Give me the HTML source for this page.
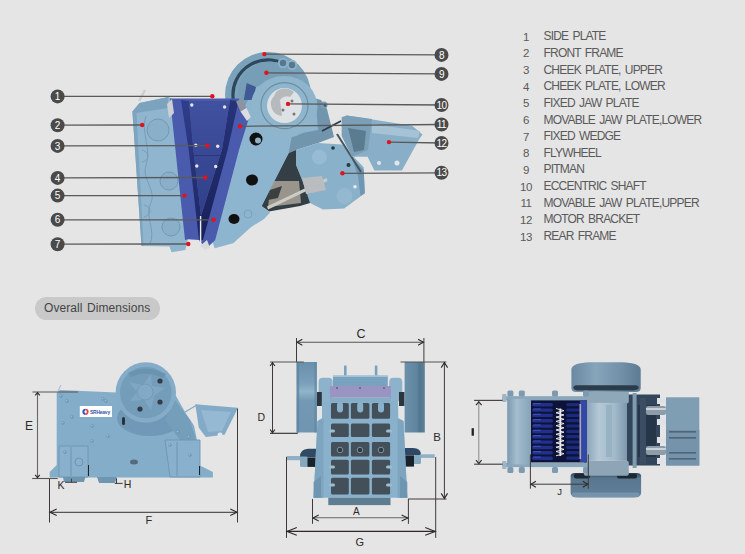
<!DOCTYPE html>
<html><head><meta charset="utf-8">
<style>
html,body{margin:0;padding:0;background:#e5e5e5;}
body{width:745px;height:554px;position:relative;overflow:hidden;font-family:"Liberation Sans",sans-serif;}
.row{position:absolute;left:0;height:16px;font-size:12px;line-height:16px;color:#5a5a5a;white-space:nowrap;}
.num{position:absolute;width:20px;text-align:center;left:516px;top:0.6px;font-size:11.5px;letter-spacing:-0.4px;}
.txt{position:absolute;left:543.5px;letter-spacing:-0.8px;word-spacing:1.6px;}
.pill{position:absolute;left:34.5px;top:296.5px;width:125px;height:23px;border-radius:12px;background:#c9c9c9;}
.pill span{position:absolute;left:9.5px;top:4px;font-size:12px;line-height:14px;color:#444;word-spacing:1.3px;letter-spacing:0.05px;}
svg{position:absolute;left:0;top:0;font-family:"Liberation Sans",sans-serif;}
</style></head>
<body>
<svg width="745" height="554" viewBox="0 0 745 554">
<circle cx="268" cy="95" r="43" fill="#7ba2bb"/>
<path d="M233.5,101 A35,35 0 0 1 291,68.5" fill="none" stroke="#2f475c" stroke-width="3.2"/>
<circle cx="270" cy="94" r="32.2" fill="#779eb7"/>
<circle cx="283" cy="63" r="4.2" fill="#56778c" stroke="#8cb1c9" stroke-width="2"/>
<circle cx="292" cy="65" r="4.2" fill="#56778c" stroke="#8cb1c9" stroke-width="2"/>
<polygon points="290,105 306,96 321,100 327,109 334,137 318,143 296,150 288.7,153 270,198 262,212 262,180" fill="#7095ac" />
<circle cx="324" cy="105" r="3.5" fill="#7b9fb6"/><circle cx="325" cy="105.5" r="1.3" fill="#3b5566"/>
<line x1="322" y1="131" x2="341" y2="121" stroke="#2f3c44" stroke-width="1.8"/>
<polygon points="296,150 318,143 342,144.4 363.7,167.2 364.8,193.2 344.2,208.4 323,209.4 308.6,202.2 303,182.3 296,165" fill="#8ab1ca" />
<polygon points="352,158 363.7,170 364.8,193.2 360.5,196 358,176" fill="#6f96b2" />
<circle cx="319.4" cy="157" r="7.5" fill="#96bbd3"/>
<circle cx="344.5" cy="196" r="8" fill="#93b8d0"/>
<circle cx="333" cy="148" r="1.8" fill="#2a3640"/><circle cx="348.5" cy="165" r="2" fill="#2a3640"/><circle cx="355" cy="186.7" r="1.8" fill="#e6ecef"/>
<line x1="337" y1="134" x2="361" y2="172" stroke="#46565f" stroke-width="2"/>
<polygon points="341.8,117.2 347,115.5 412.2,125.8 422.5,134.4 419,139.5 401.9,170.4 374.4,170.4 367.6,156.7 352,156.7 341.8,136" fill="#89afc8" />
<polygon points="341.8,117.2 347,115.5 372,119 368,150 352,156.7 341.8,136" fill="#7b9fb6" />
<polygon points="348,128 366,131 364,150 354,152" fill="#5a7b90" />
<polygon points="372,124 420,131 418,138 372,133" fill="#a6c3d6" />
<circle cx="379" cy="163" r="2" fill="#dfe6ea"/><circle cx="397" cy="163" r="2.5" fill="#dfe6ea"/>
<polygon points="288.7,153 296,150 296,165 303,182.3 310,203 300,206 269,211.5 261.7,206" fill="#343e45" />
<polygon points="271,181 299,181 301,203 268,207" fill="#9a958c" />
<polygon points="270,190 282,186 278,198 268,200" fill="#3a3f42" />
<polygon points="267,206.5 326.6,178 327.5,181 268,209.5" fill="#cbcbc7" />
<polygon points="302,178 322,176 326,190 306,194" fill="#b9bdbf" />
<polygon points="244,108 254,88 278,78 300,90 316,105 318,130 292,135 288.7,153 261.7,206 270,212.7 263.8,219.2 250.9,227.2 233.2,243.3 214.6,248.2 212,240" fill="#8db5cf" />
<polygon points="246.7,83 256,87 253,100 243.8,100" fill="#3f5a94" />
<ellipse cx="284" cy="107" rx="33.5" ry="31" fill="#8fb5cd"/>
<ellipse cx="284.5" cy="105.6" rx="23.5" ry="23" fill="none" stroke="#6a8fa7" stroke-width="1.2"/>
<circle cx="284.5" cy="105.6" r="17.5" fill="#dfe2e4"/>
<path d="M276,92 A13,13 0 0 1 294,92 L290,97 A8,8 0 0 0 280,100 L282,116 A12,12 0 0 1 274,96 Z" fill="#b6babd"/>
<circle cx="283" cy="110" r="1.5" fill="#777"/><circle cx="294" cy="114" r="1.5" fill="#777"/><circle cx="292" cy="101" r="1.5" fill="#777"/>
<circle cx="256" cy="139" r="6.5" fill="#111"/><circle cx="258" cy="140.5" r="3" fill="#8fb2c6"/>
<ellipse cx="252" cy="180" rx="6" ry="5.5" fill="#111"/>
<ellipse cx="234" cy="219" rx="5.5" ry="5" fill="#111"/>
<circle cx="248" cy="214" r="4" fill="none" stroke="#7ca3bd" stroke-width="1"/>
<polygon points="132.4,111.5 139.6,102.9 168.3,96.9 173,99 182,195 188,239 185.4,250 171.5,252.2 169.5,246.5 141.5,246" fill="#8fb5cf" />
<polygon points="132.4,111.5 139.6,102.9 168.3,96.9 168,108 136,113" fill="#7ca3be" />
<line x1="145" y1="90" x2="139" y2="101" stroke="#c9cfd4" stroke-width="2.5"/>
<polygon points="132.4,111.5 136.5,112.8 143.5,246 141.5,246" fill="#7ea5c0" />
<circle cx="158" cy="130" r="11" fill="#89afc9" stroke="#7399b4" stroke-width="1"/>
<circle cx="169" cy="181" r="9" fill="#89afc9" stroke="#7399b4" stroke-width="1"/>
<circle cx="171" cy="227" r="9" fill="#89afc9" stroke="#7399b4" stroke-width="1"/>
<path d="M146,116 C140,130 152,150 146,165 C141,180 158,190 150,205 C145,215 156,232 150,244" fill="none" stroke="#779db8" stroke-width="1"/>
<path d="M142,150 C150,152 150,160 142,162" fill="none" stroke="#779db8" stroke-width="1"/>
<path d="M144,205 C152,207 152,215 144,217" fill="none" stroke="#779db8" stroke-width="1"/>
<polygon points="170,98.5 238.8,98.5 248.4,119.8 239,150 215.2,240 209,246 202.9,244.8 200,242 199.1,240 188,239.3 185,240" fill="#4a5bad" />
<polygon points="181,100 189,101 193.4,150 201,216 201,240 199,240 188.7,150" fill="url(#ls)" />
<polygon points="230,100 238.5,101 227.6,150 203,240 201,240 201,216 221.9,150" fill="url(#rs)" />
<defs><linearGradient id="ls" x1="0" x2="0" y1="0" y2="1"><stop offset="0" stop-color="#303d8a"/><stop offset="1" stop-color="#1c2663"/></linearGradient><linearGradient id="rs" x1="0" x2="0" y1="0" y2="1"><stop offset="0" stop-color="#283479"/><stop offset="1" stop-color="#18215a"/></linearGradient><linearGradient id="bw" x1="0" x2="0" y1="0" y2="1"><stop offset="0" stop-color="#4051a0"/><stop offset="1" stop-color="#313f88"/></linearGradient></defs>
<polygon points="189,101 230,101 221.9,150 201,216 193.4,150" fill="url(#bw)" />
<line x1="191" y1="155.6" x2="221" y2="155.6" stroke="#2a3577" stroke-width="1"/>
<line x1="200.6" y1="216" x2="200.6" y2="244" stroke="#eeeeee" stroke-width="1.4"/>
<polygon points="236,101.5 242,98.5 246.5,108 240.5,111.5" fill="#8d93a0" />
<polygon points="240.5,111.5 246.5,108 250.8,117 247,121" fill="#dcdde0" />
<polygon points="167,104 172,99 174,113 169,118" fill="#cdd1d6" />
<polygon points="200,246 207,240 210,248 205,250" fill="#d8dadc" />
<circle cx="191.8" cy="105" r="1.7" fill="#e6e6e6"/>
<circle cx="224.6" cy="107" r="1.7" fill="#e6e6e6"/>
<circle cx="195.8" cy="145.2" r="1.7" fill="#e6e6e6"/>
<circle cx="217.7" cy="146.2" r="1.7" fill="#e6e6e6"/>
<circle cx="196.8" cy="166" r="1.7" fill="#e6e6e6"/>
<circle cx="215.7" cy="166.5" r="1.7" fill="#e6e6e6"/>
<polygon points="56.7,393 60,390 116,392.6 175.4,395 185.9,413.6 194,425.4 198.8,448.8 198.8,465 205,468 212.9,472 212.9,477.6 49.7,477.6 49.7,472 56.7,465" fill="#84adca" />
<ellipse cx="150" cy="418" rx="33" ry="18" fill="#7099b7"/>
<polygon points="175,400 190,420 196,440 180,440 165,420" fill="#759eba" />
<polygon points="62.9,477 85.4,477 84,482 64,482" fill="#6f96b1" />
<polygon points="97,477 116.6,477 115,483 99,483" fill="#6f96b1" />
<polygon points="59,446 88,446 88,477 59,477" fill="#89b1cd" stroke="#6e96b2" stroke-width="0.9"/>
<line x1="71" y1="447" x2="71" y2="476" stroke="#6e95b0" stroke-width="1"/>
<circle cx="79" cy="462" r="4" fill="none" stroke="#6e95b0" stroke-width="1"/>
<line x1="88.5" y1="465" x2="88.5" y2="476" stroke="#222" stroke-width="1"/>
<polygon points="165,440 200,440 200,477 170,477" fill="#89b1cd" stroke="#6e96b2" stroke-width="0.9"/>
<line x1="177" y1="442" x2="177" y2="476" stroke="#6e95b0" stroke-width="1"/>
<line x1="199.5" y1="466" x2="199.5" y2="475" stroke="#222" stroke-width="1"/>
<polygon points="195.3,404.2 237.5,407.8 236.3,411.3 224.6,434.7 205.8,437.1 198.8,427.7" fill="#83abc7" />
<polygon points="201,410 231,412 222,431 208,432" fill="#95b9d3" />
<circle cx="220" cy="435" r="2.5" fill="#e2e8ec"/>
<line x1="185" y1="412" x2="197" y2="405" stroke="#8aa9bd" stroke-width="1.2"/>
<circle cx="145.8" cy="392.5" r="30.2" fill="#84acc8"/>
<circle cx="145.8" cy="392.5" r="25.8" fill="#749dba"/>
<path d="M128,373 Q146,364 166,374 L163,378 Q146,370 131,377 Z" fill="#6a93b0"/>
<path d="M151,374 L152,386 L165,388 L154,396 L151,410 L144,400 L130,401 L137,392 L129,382 L143,385 Z" fill="#7fa7c4"/>
<circle cx="145" cy="392" r="8" fill="#82aac6" stroke="#6f98b5" stroke-width="0.8"/>
<circle cx="160" cy="381" r="2.6" fill="#333c44"/><circle cx="160" cy="402" r="2.6" fill="#333c44"/><circle cx="140" cy="409" r="2.6" fill="#333c44"/>
<rect x="122" y="417" width="3" height="8" rx="1.5" fill="#2a333a"/>
<ellipse cx="134" cy="462" rx="4" ry="2.5" fill="#556b7a"/>
<line x1="58" y1="391" x2="61" y2="385" stroke="#b9c6cf" stroke-width="1.5"/>
<circle cx="61" cy="396" r="1.7" fill="#6c95b2"/><circle cx="60.6" cy="395.6" r="0.9" fill="#96bbd5"/>
<circle cx="67" cy="401" r="1.7" fill="#6c95b2"/><circle cx="66.6" cy="400.6" r="0.9" fill="#96bbd5"/>
<circle cx="72" cy="417" r="1.7" fill="#6c95b2"/><circle cx="71.6" cy="416.6" r="0.9" fill="#96bbd5"/>
<circle cx="63" cy="423" r="1.7" fill="#6c95b2"/><circle cx="62.6" cy="422.6" r="0.9" fill="#96bbd5"/>
<circle cx="92" cy="426" r="1.7" fill="#6c95b2"/><circle cx="91.6" cy="425.6" r="0.9" fill="#96bbd5"/>
<circle cx="92" cy="441" r="1.7" fill="#6c95b2"/><circle cx="91.6" cy="440.6" r="0.9" fill="#96bbd5"/>
<circle cx="108" cy="436" r="1.7" fill="#6c95b2"/><circle cx="107.6" cy="435.6" r="0.9" fill="#96bbd5"/>
<circle cx="106" cy="401" r="1.7" fill="#6c95b2"/><circle cx="105.6" cy="400.6" r="0.9" fill="#96bbd5"/>
<circle cx="65" cy="452" r="1.7" fill="#6c95b2"/><circle cx="64.6" cy="451.6" r="0.9" fill="#96bbd5"/>
<circle cx="103" cy="399" r="1.7" fill="#6c95b2"/><circle cx="102.6" cy="398.6" r="0.9" fill="#96bbd5"/>
<circle cx="170" cy="445" r="1.7" fill="#6c95b2"/><circle cx="169.6" cy="444.6" r="0.9" fill="#96bbd5"/>
<circle cx="190" cy="455" r="1.7" fill="#6c95b2"/><circle cx="189.6" cy="454.6" r="0.9" fill="#96bbd5"/>
<circle cx="178" cy="432" r="1.7" fill="#6c95b2"/><circle cx="177.6" cy="431.6" r="0.9" fill="#96bbd5"/>
<circle cx="189" cy="437" r="1.7" fill="#6c95b2"/><circle cx="188.6" cy="436.6" r="0.9" fill="#96bbd5"/>
<rect x="79.8" y="406" width="32.2" height="11" fill="#ffffff"/>
<path d="M85.5,408.7 A3.1,3.1 0 0 0 85.5,414.9 Z" fill="#2f57b0"/><path d="M85.5,408.7 A3.1,3.1 0 0 1 85.5,414.9 Z" fill="#e0474f"/>
<circle cx="85.6" cy="411.8" r="1.2" fill="#fff"/>
<text x="90" y="414.2" font-size="5" font-weight="bold" fill="#3656a8" letter-spacing="-0.25">SRHeavy</text>
<defs>
<linearGradient id="fwL" x1="0" x2="0" y1="0" y2="1">
<stop offset="0" stop-color="#6990ab"/><stop offset="0.3" stop-color="#7aa0ba"/><stop offset="0.42" stop-color="#90b4cb"/><stop offset="0.55" stop-color="#7399b4"/><stop offset="1" stop-color="#6f95b0"/></linearGradient>
<linearGradient id="fwR" x1="0" x2="1" y1="0" y2="0">
<stop offset="0" stop-color="#6b90ab"/><stop offset="0.6" stop-color="#60869f"/><stop offset="0.75" stop-color="#52758e"/><stop offset="1" stop-color="#5d8299"/></linearGradient>
</defs>
<path d="M300,457 Q300,449 308,448.7 L322,448.7 L322,457 Z" fill="#2f4b63"/>
<rect x="286.4" y="456" width="14" height="4.2" fill="#8fb0c5"/>
<rect x="300" y="456.5" width="8" height="10.5" rx="1.5" fill="#86a8bd"/>
<rect x="307.5" y="457.4" width="12" height="9.5" fill="#17222c"/>
<path d="M421,455 Q421,448 413,448 L398,448 L398,455 Z" fill="#2c4865"/>
<rect x="419.8" y="454.3" width="14.9" height="3.6" fill="#8fb0c5"/>
<rect x="413.5" y="455" width="7.5" height="9" rx="1.5" fill="#86a8bd"/>
<rect x="401.5" y="455.3" width="12.5" height="11.3" fill="#17222c"/>
<polygon points="322,400 398,400 398.3,418 403.5,421 407.3,497.7 313.6,497.7 317.5,421 322,418" fill="#8ab1cb" />
<polygon points="317.5,421 323.5,419 323.5,497.7 313.6,497.7" fill="#7ea5bf" />
<polygon points="403.5,421 397.5,419 397.5,497.7 407.3,497.7" fill="#7ea5bf" />
<polygon points="313.6,482 321,476 321,497.7 313.6,497.7" fill="#6f96b1" />
<polygon points="407.3,482 400,476 400,497.7 407.3,497.7" fill="#6f96b1" />
<rect x="331" y="403" width="17.8" height="15.7" rx="1.5" fill="#434f59"/>
<rect x="332.5" y="404.5" width="14.8" height="12.7" rx="1" fill="url(#cell)"/>
<rect x="350.9" y="403" width="18.5" height="15.7" rx="1.5" fill="#434f59"/>
<rect x="352.4" y="404.5" width="15.5" height="12.7" rx="1" fill="url(#cell)"/>
<rect x="371.9" y="403" width="18.2" height="15.7" rx="1.5" fill="#434f59"/>
<rect x="373.4" y="404.5" width="15.2" height="12.7" rx="1" fill="url(#cell)"/>
<rect x="331" y="423.5" width="17.8" height="13.5" rx="1.5" fill="#434f59"/>
<rect x="332.5" y="425.0" width="14.8" height="10.5" rx="1" fill="url(#cell)"/>
<rect x="350.9" y="423.5" width="18.5" height="13.5" rx="1.5" fill="#434f59"/>
<rect x="352.4" y="425.0" width="15.5" height="10.5" rx="1" fill="url(#cell)"/>
<rect x="371.9" y="423.5" width="18.2" height="13.5" rx="1.5" fill="#434f59"/>
<rect x="373.4" y="425.0" width="15.2" height="10.5" rx="1" fill="url(#cell)"/>
<rect x="331" y="441.9" width="17.8" height="14.7" rx="1.5" fill="#434f59"/>
<rect x="332.5" y="443.4" width="14.8" height="11.7" rx="1" fill="url(#cell)"/>
<rect x="350.9" y="441.9" width="18.5" height="14.7" rx="1.5" fill="#434f59"/>
<rect x="352.4" y="443.4" width="15.5" height="11.7" rx="1" fill="url(#cell)"/>
<rect x="371.9" y="441.9" width="18.2" height="14.7" rx="1.5" fill="#434f59"/>
<rect x="373.4" y="443.4" width="15.2" height="11.7" rx="1" fill="url(#cell)"/>
<rect x="331" y="459.8" width="17.8" height="14.7" rx="1.5" fill="#434f59"/>
<rect x="332.5" y="461.3" width="14.8" height="11.7" rx="1" fill="url(#cell)"/>
<rect x="350.9" y="459.8" width="18.5" height="14.7" rx="1.5" fill="#434f59"/>
<rect x="352.4" y="461.3" width="15.5" height="11.7" rx="1" fill="url(#cell)"/>
<rect x="371.9" y="459.8" width="18.2" height="14.7" rx="1.5" fill="#434f59"/>
<rect x="373.4" y="461.3" width="15.2" height="11.7" rx="1" fill="url(#cell)"/>
<rect x="331" y="477.7" width="17.8" height="16.8" rx="1.5" fill="#434f59"/>
<rect x="332.5" y="479.2" width="14.8" height="13.8" rx="1" fill="url(#cell)"/>
<rect x="350.9" y="477.7" width="18.5" height="16.8" rx="1.5" fill="#434f59"/>
<rect x="352.4" y="479.2" width="15.5" height="13.8" rx="1" fill="url(#cell)"/>
<rect x="371.9" y="477.7" width="18.2" height="16.8" rx="1.5" fill="#434f59"/>
<rect x="373.4" y="479.2" width="15.2" height="13.8" rx="1" fill="url(#cell)"/>
<circle cx="340" cy="450" r="2.8" fill="#2f3a43" stroke="#7d93a2" stroke-width="1"/>
<circle cx="360" cy="450" r="2.8" fill="#2f3a43" stroke="#7d93a2" stroke-width="1"/>
<circle cx="381" cy="450" r="2.8" fill="#2f3a43" stroke="#7d93a2" stroke-width="1"/>
<rect x="329" y="429.5" width="6" height="3" rx="1.5" fill="#9dbdd2"/>
<rect x="386" y="429.5" width="6" height="3" rx="1.5" fill="#9dbdd2"/>
<rect x="329" y="465.5" width="6" height="3" rx="1.5" fill="#9dbdd2"/>
<rect x="386" y="465.5" width="6" height="3" rx="1.5" fill="#9dbdd2"/>
<rect x="329" y="483.5" width="6" height="3" rx="1.5" fill="#9dbdd2"/>
<rect x="386" y="483.5" width="6" height="3" rx="1.5" fill="#9dbdd2"/>
<rect x="337" y="402" width="6" height="10.5" rx="3" fill="#8ab1cb"/>
<rect x="357.2" y="402" width="6" height="10.5" rx="3" fill="#8ab1cb"/>
<rect x="378" y="402" width="6" height="10.5" rx="3" fill="#8ab1cb"/>
<rect x="328.3" y="497.7" width="62.2" height="7.4" fill="#5f7d91"/>
<rect x="318.6" y="377.7" width="14" height="23.5" rx="4" fill="#8db3cc"/>
<rect x="389.2" y="377.7" width="13.1" height="23.5" rx="4" fill="#8db3cc"/>
<rect x="316.8" y="392" width="5" height="14" fill="#2c363e"/>
<rect x="399" y="392" width="5.5" height="14" fill="#2c363e"/>
<rect x="344" y="365.5" width="2.6" height="10" fill="#7aa2bd"/>
<rect x="374.8" y="365.5" width="2.6" height="10" fill="#7aa2bd"/>
<rect x="333" y="375.6" width="54.8" height="10.4" fill="#79a2bf"/>
<rect x="333" y="375.6" width="54.8" height="1.4" fill="#a3c2d6"/>
<rect x="329.9" y="386" width="61.1" height="11.7" fill="#9994c1"/>
<rect x="329.9" y="397.7" width="61.1" height="4.4" fill="#86adc7"/>
<circle cx="337" cy="388" r="0.9" fill="#5b5a7e"/><circle cx="360" cy="388" r="0.9" fill="#5b5a7e"/><circle cx="384" cy="388" r="0.9" fill="#5b5a7e"/>
<rect x="296.6" y="362" width="20.2" height="70.5" fill="url(#fwL)"/>
<rect x="296.6" y="362" width="2.5" height="70.5" fill="#5e85a1" opacity="0.8"/>
<rect x="314.5" y="362" width="2.3" height="70.5" fill="#5f86a2" opacity="0.7"/>
<rect x="404.6" y="362" width="20.2" height="70.5" fill="url(#fwR)"/>
<defs>
<linearGradient id="endcap" x1="0" x2="1" y1="0" y2="0">
<stop offset="0" stop-color="#7b99af"/><stop offset="0.4" stop-color="#a4bdcf"/><stop offset="1" stop-color="#86a3b8"/></linearGradient>
<linearGradient id="pitcyl" x1="0" x2="1" y1="0" y2="0">
<stop offset="0" stop-color="#8aa4b8"/><stop offset="0.3" stop-color="#b4c8d6"/><stop offset="0.7" stop-color="#a2b9ca"/><stop offset="1" stop-color="#7e98ac"/></linearGradient>
<linearGradient id="topfw" x1="0" x2="1" y1="0" y2="0">
<stop offset="0" stop-color="#6a8aa2"/><stop offset="0.35" stop-color="#86a4ba"/><stop offset="0.7" stop-color="#7392aa"/><stop offset="1" stop-color="#5d7c94"/></linearGradient>
<linearGradient id="botfw" x1="0" x2="0" y1="0" y2="1">
<stop offset="0" stop-color="#33485a"/><stop offset="0.22" stop-color="#58768d"/><stop offset="1" stop-color="#62809a"/></linearGradient>
</defs>
<rect x="666" y="397.3" width="33.3" height="68.2" fill="#7f9db3"/>
<rect x="666" y="430" width="33.3" height="35.5" fill="#7593aa"/>
<rect x="669" y="431" width="27" height="1.6" fill="#4d667a"/>
<rect x="669" y="437" width="27" height="1.6" fill="#4d667a"/>
<rect x="669" y="452" width="27" height="1.6" fill="#4d667a"/>
<rect x="669" y="458" width="27" height="1.6" fill="#4d667a"/>
<rect x="627" y="394.5" width="33" height="71" fill="#33455b"/>
<rect x="638" y="405" width="18" height="52" fill="#263548"/>
<rect x="640" y="398" width="6" height="66" fill="#3b4d63"/>
<rect x="646" y="406" width="20" height="9" rx="2" fill="#8d9ca8"/>
<rect x="646" y="408" width="20" height="2" fill="#c9d0d6"/>
<rect x="646" y="446" width="20" height="9" rx="2" fill="#8d9ca8"/>
<rect x="646" y="448" width="20" height="2" fill="#c9d0d6"/>
<rect x="657" y="398" width="9" height="6" fill="#dfe3e6"/>
<rect x="657" y="419" width="9" height="6" fill="#dfe3e6"/>
<rect x="657" y="437" width="9" height="6" fill="#dfe3e6"/>
<rect x="657" y="458" width="9" height="6" fill="#dfe3e6"/>
<rect x="632.6" y="393" width="4" height="75" fill="#7f9bb0"/>
<path d="M570.6,476 Q570.6,472.9 575,472.9 L636.7,472.9 Q641.1,472.9 641.1,476 L641.1,493 Q640.7,497.3 634,497.5 L578,497.5 Q571,497.3 570.6,493 Z" fill="url(#botfw)"/>
<rect x="572" y="492.5" width="67.5" height="4.5" rx="2" fill="#7593aa"/>
<rect x="574" y="473.5" width="16" height="5" rx="2" fill="#1c2834"/><rect x="617" y="473.5" width="20" height="5" rx="2" fill="#1c2834"/>
<rect x="583.8" y="389.5" width="45" height="14" rx="2" fill="#8ea7b9"/>
<rect x="583.8" y="460.7" width="45" height="15" rx="2" fill="#8da5b6"/>
<rect x="586.6" y="402.8" width="40.4" height="58" fill="url(#pitcyl)"/>
<rect x="606" y="405" width="6" height="52" fill="#98b1c3"/>
<path d="M571.4,369 Q572,363 590,362.2 L622,362.2 Q640,363 640.7,369 L640.7,388 Q640.7,392 636,392 L576,392 Q571.4,392 571.4,388 Z" fill="url(#topfw)"/>
<path d="M576,385.3 L636,385.3 Q639.5,386 638.5,388.5 Q637,390.5 633,390.5 L579,390.5 Q574.5,390.5 573.5,388.5 Q572.5,386 576,385.3 Z" fill="#2b3c4a"/>
<rect x="530.7" y="400" width="56" height="62.5" fill="#0c1238"/>
<rect x="532" y="403.0" width="21" height="3.4" rx="1.7" fill="#21308a"/>
<rect x="533" y="403.0" width="8" height="1.2" rx="0.6" fill="#3a4fb5"/>
<rect x="566" y="403.0" width="14" height="3.2" rx="1.6" fill="#1b2a7a"/>
<rect x="532" y="408.4" width="21" height="3.4" rx="1.7" fill="#21308a"/>
<rect x="533" y="408.4" width="8" height="1.2" rx="0.6" fill="#3a4fb5"/>
<rect x="566" y="408.4" width="14" height="3.2" rx="1.6" fill="#1b2a7a"/>
<rect x="532" y="413.7" width="21" height="3.4" rx="1.7" fill="#21308a"/>
<rect x="533" y="413.7" width="8" height="1.2" rx="0.6" fill="#3a4fb5"/>
<rect x="566" y="413.7" width="14" height="3.2" rx="1.6" fill="#1b2a7a"/>
<rect x="532" y="419.1" width="21" height="3.4" rx="1.7" fill="#21308a"/>
<rect x="533" y="419.1" width="8" height="1.2" rx="0.6" fill="#3a4fb5"/>
<rect x="566" y="419.1" width="14" height="3.2" rx="1.6" fill="#1b2a7a"/>
<rect x="532" y="424.4" width="21" height="3.4" rx="1.7" fill="#21308a"/>
<rect x="533" y="424.4" width="8" height="1.2" rx="0.6" fill="#3a4fb5"/>
<rect x="566" y="424.4" width="14" height="3.2" rx="1.6" fill="#1b2a7a"/>
<rect x="532" y="429.8" width="21" height="3.4" rx="1.7" fill="#21308a"/>
<rect x="533" y="429.8" width="8" height="1.2" rx="0.6" fill="#3a4fb5"/>
<rect x="566" y="429.8" width="14" height="3.2" rx="1.6" fill="#1b2a7a"/>
<rect x="532" y="435.1" width="21" height="3.4" rx="1.7" fill="#21308a"/>
<rect x="533" y="435.1" width="8" height="1.2" rx="0.6" fill="#3a4fb5"/>
<rect x="566" y="435.1" width="14" height="3.2" rx="1.6" fill="#1b2a7a"/>
<rect x="532" y="440.4" width="21" height="3.4" rx="1.7" fill="#21308a"/>
<rect x="533" y="440.4" width="8" height="1.2" rx="0.6" fill="#3a4fb5"/>
<rect x="566" y="440.4" width="14" height="3.2" rx="1.6" fill="#1b2a7a"/>
<rect x="532" y="445.8" width="21" height="3.4" rx="1.7" fill="#21308a"/>
<rect x="533" y="445.8" width="8" height="1.2" rx="0.6" fill="#3a4fb5"/>
<rect x="566" y="445.8" width="14" height="3.2" rx="1.6" fill="#1b2a7a"/>
<rect x="532" y="451.1" width="21" height="3.4" rx="1.7" fill="#21308a"/>
<rect x="533" y="451.1" width="8" height="1.2" rx="0.6" fill="#3a4fb5"/>
<rect x="566" y="451.1" width="14" height="3.2" rx="1.6" fill="#1b2a7a"/>
<rect x="532" y="456.5" width="21" height="3.4" rx="1.7" fill="#21308a"/>
<rect x="533" y="456.5" width="8" height="1.2" rx="0.6" fill="#3a4fb5"/>
<rect x="566" y="456.5" width="14" height="3.2" rx="1.6" fill="#1b2a7a"/>
<rect x="579.8" y="401" width="7" height="61" fill="#3347a8"/>
<rect x="579.5" y="404" width="1.6" height="55" fill="#a9a9b2"/>
<rect x="559.4" y="408.5" width="1.8" height="47.5" fill="#f0f0f0"/>
<path d="M556,408.50 L564,410.65 L556,412.80 L564,414.95 L556,417.10 L564,419.25 L556,421.40 L564,423.55 L556,425.70 L564,427.85 L556,430.00 L564,432.15 L556,434.30 L564,436.45 L556,438.60 L564,440.75 L556,442.90 L564,445.05 L556,447.20 L564,449.35 L556,451.50 L564,453.65 L556,455.80" fill="none" stroke="#e8e8e8" stroke-width="1"/>
<rect x="502.3" y="396.2" width="84" height="4.2" fill="#8aa6ba"/>
<rect x="502.3" y="462.9" width="84" height="4.2" fill="#8aa6ba"/>
<rect x="507.4" y="390.5" width="6" height="6" rx="1.5" fill="#7d9ab0"/>
<rect x="507.4" y="467" width="6" height="6" rx="1.5" fill="#7d9ab0"/>
<rect x="518.8" y="390.5" width="6" height="6" rx="1.5" fill="#7d9ab0"/>
<rect x="518.8" y="467" width="6" height="6" rx="1.5" fill="#7d9ab0"/>
<rect x="552" y="390.5" width="6" height="6" rx="1.5" fill="#7d9ab0"/>
<rect x="552" y="467" width="6" height="6" rx="1.5" fill="#7d9ab0"/>
<rect x="583" y="390.5" width="6" height="6" rx="1.5" fill="#7d9ab0"/>
<rect x="583" y="467" width="6" height="6" rx="1.5" fill="#7d9ab0"/>
<rect x="502.3" y="394" width="4" height="8" fill="#9fb4c4"/><rect x="502.3" y="461" width="4" height="8" fill="#9fb4c4"/>
<rect x="507.2" y="398.8" width="23.5" height="65.7" fill="url(#endcap)"/>
<line x1="57.6" y1="96.4" x2="212.3" y2="96.3" stroke="#5a5a5a" stroke-width="1.3"/>
<circle cx="212.3" cy="96.3" r="2.2" fill="#e0141c"/>
<line x1="57.6" y1="125.2" x2="142.2" y2="125.0" stroke="#5a5a5a" stroke-width="1.3"/>
<circle cx="142.2" cy="125.0" r="2.2" fill="#e0141c"/>
<line x1="57.6" y1="145.9" x2="207.4" y2="145.7" stroke="#5a5a5a" stroke-width="1.3"/>
<circle cx="207.4" cy="145.7" r="2.2" fill="#e0141c"/>
<line x1="57.6" y1="177.9" x2="205.3" y2="177.5" stroke="#5a5a5a" stroke-width="1.3"/>
<circle cx="205.3" cy="177.5" r="2.2" fill="#e0141c"/>
<line x1="57.6" y1="195.6" x2="184.5" y2="195.6" stroke="#5a5a5a" stroke-width="1.3"/>
<circle cx="184.5" cy="195.6" r="2.2" fill="#e0141c"/>
<line x1="57.6" y1="219.8" x2="213.6" y2="219.8" stroke="#5a5a5a" stroke-width="1.3"/>
<circle cx="213.6" cy="219.8" r="2.2" fill="#e0141c"/>
<line x1="57.6" y1="244.2" x2="188.3" y2="244.0" stroke="#5a5a5a" stroke-width="1.3"/>
<circle cx="188.3" cy="244.0" r="2.2" fill="#e0141c"/>
<line x1="441.5" y1="54.9" x2="264.4" y2="54.1" stroke="#5a5a5a" stroke-width="1.3"/>
<circle cx="264.4" cy="54.1" r="2.2" fill="#e0141c"/>
<line x1="441.5" y1="73.9" x2="266.4" y2="72.8" stroke="#5a5a5a" stroke-width="1.3"/>
<circle cx="266.4" cy="72.8" r="2.2" fill="#e0141c"/>
<line x1="441.5" y1="105.0" x2="288.0" y2="103.9" stroke="#5a5a5a" stroke-width="1.3"/>
<circle cx="288.0" cy="103.9" r="2.2" fill="#e0141c"/>
<line x1="441.5" y1="124.5" x2="240.0" y2="126.3" stroke="#5a5a5a" stroke-width="1.3"/>
<circle cx="240.0" cy="126.3" r="2.2" fill="#e0141c"/>
<line x1="441.5" y1="143.0" x2="389.0" y2="142.1" stroke="#5a5a5a" stroke-width="1.3"/>
<circle cx="389.0" cy="142.1" r="2.2" fill="#e0141c"/>
<line x1="441.5" y1="172.8" x2="342.4" y2="173.3" stroke="#5a5a5a" stroke-width="1.3"/>
<circle cx="342.4" cy="173.3" r="2.2" fill="#e0141c"/>
<circle cx="57.6" cy="96.4" r="7" fill="#4a4a4a"/><text x="57.6" y="100.0" font-size="10" fill="#fff" text-anchor="middle">1</text>
<circle cx="57.6" cy="125.2" r="7" fill="#4a4a4a"/><text x="57.6" y="128.8" font-size="10" fill="#fff" text-anchor="middle">2</text>
<circle cx="57.6" cy="145.9" r="7" fill="#4a4a4a"/><text x="57.6" y="149.5" font-size="10" fill="#fff" text-anchor="middle">3</text>
<circle cx="57.6" cy="177.9" r="7" fill="#4a4a4a"/><text x="57.6" y="181.5" font-size="10" fill="#fff" text-anchor="middle">4</text>
<circle cx="57.6" cy="195.6" r="7" fill="#4a4a4a"/><text x="57.6" y="199.2" font-size="10" fill="#fff" text-anchor="middle">5</text>
<circle cx="57.6" cy="219.8" r="7" fill="#4a4a4a"/><text x="57.6" y="223.4" font-size="10" fill="#fff" text-anchor="middle">6</text>
<circle cx="57.6" cy="244.2" r="7" fill="#4a4a4a"/><text x="57.6" y="247.79999999999998" font-size="10" fill="#fff" text-anchor="middle">7</text>
<circle cx="441.5" cy="54.9" r="7" fill="#4a4a4a"/><text x="441.5" y="58.5" font-size="10" fill="#fff" text-anchor="middle" letter-spacing="-0.5">8</text>
<circle cx="441.5" cy="73.9" r="7" fill="#4a4a4a"/><text x="441.5" y="77.5" font-size="10" fill="#fff" text-anchor="middle" letter-spacing="-0.5">9</text>
<circle cx="441.5" cy="105.0" r="7" fill="#4a4a4a"/><text x="441.5" y="108.6" font-size="10" fill="#fff" text-anchor="middle" letter-spacing="-0.5">10</text>
<circle cx="441.5" cy="124.5" r="7" fill="#4a4a4a"/><text x="441.5" y="128.1" font-size="10" fill="#fff" text-anchor="middle" letter-spacing="-0.5">11</text>
<circle cx="441.5" cy="143.0" r="7" fill="#4a4a4a"/><text x="441.5" y="146.6" font-size="10" fill="#fff" text-anchor="middle" letter-spacing="-0.5">12</text>
<circle cx="441.5" cy="172.8" r="7" fill="#4a4a4a"/><text x="441.5" y="176.4" font-size="10" fill="#fff" text-anchor="middle" letter-spacing="-0.5">13</text>
<line x1="32.4" y1="392" x2="78.2" y2="392" stroke="#5a5555" stroke-width="1.2"/>
<line x1="32.2" y1="478.5" x2="57.7" y2="478.5" stroke="#5a5555" stroke-width="1.1"/>
<line x1="37.5" y1="392" x2="37.5" y2="478" stroke="#6a6565" stroke-width="1.1"/>
<polyline points="35.2,395.40000000000003 37.5,392.6 39.8,395.40000000000003" fill="none" stroke="#2e2a2a" stroke-width="1.1"/>
<polyline points="35.2,474.8 37.5,477.6 39.8,474.8" fill="none" stroke="#2e2a2a" stroke-width="1.1"/>
<text x="29.1" y="429.9" font-size="12" fill="#2e2a2a" text-anchor="middle">E</text>
<line x1="49.5" y1="478.9" x2="49.5" y2="522.5" stroke="#3e3a3a" stroke-width="1.0"/>
<line x1="237.5" y1="408.5" x2="237.5" y2="522.5" stroke="#3e3a3a" stroke-width="1.0"/>
<line x1="49.5" y1="512.4" x2="237.5" y2="512.4" stroke="#555" stroke-width="1.1"/>
<polyline points="56.699999999999996,509.09999999999997 49.9,512.3 56.699999999999996,515.5" fill="none" stroke="#2e2a2a" stroke-width="1.1"/>
<polyline points="230.29999999999998,509.09999999999997 237.1,512.3 230.29999999999998,515.5" fill="none" stroke="#2e2a2a" stroke-width="1.1"/>
<text x="148.9" y="523.9" font-size="11" fill="#2e2a2a" text-anchor="middle">F</text>
<line x1="65.1" y1="482.3" x2="77.1" y2="482.3" stroke="#3e3a3a" stroke-width="1.0"/>
<line x1="71.4" y1="478.8" x2="71.4" y2="482.3" stroke="#3e3a3a" stroke-width="1.0"/>
<line x1="114.8" y1="483.4" x2="122.7" y2="483.4" stroke="#3e3a3a" stroke-width="1.0"/>
<line x1="116.5" y1="478.3" x2="116.5" y2="483.4" stroke="#3e3a3a" stroke-width="1.0"/>
<text x="61.1" y="489.3" font-size="10.5" fill="#2e2a2a" text-anchor="middle">K</text>
<text x="127.6" y="488.2" font-size="10.5" fill="#2e2a2a" text-anchor="middle">H</text>
<line x1="296.5" y1="338" x2="296.5" y2="362" stroke="#3e3a3a" stroke-width="1.0"/>
<line x1="423.9" y1="338" x2="423.9" y2="362.3" stroke="#3e3a3a" stroke-width="1.0"/>
<line x1="296.5" y1="342.2" x2="423.9" y2="342.2" stroke="#555" stroke-width="1.1"/>
<polyline points="302.3,339.2 297,342.2 302.3,345.2" fill="none" stroke="#2e2a2a" stroke-width="1.1"/>
<polyline points="418.09999999999997,339.2 423.4,342.2 418.09999999999997,345.2" fill="none" stroke="#2e2a2a" stroke-width="1.1"/>
<text x="361.1" y="338.3" font-size="12.5" fill="#2e2a2a" text-anchor="middle">C</text>
<line x1="270" y1="362" x2="303.8" y2="362" stroke="#555" stroke-width="1.1"/>
<line x1="270" y1="433.3" x2="297.8" y2="433.3" stroke="#2e2a2a" stroke-width="1.1"/>
<line x1="272.5" y1="362" x2="272.5" y2="433" stroke="#3e3a3a" stroke-width="1.0"/>
<polyline points="270.1,366.0 272.5,362.6 274.9,366.0" fill="none" stroke="#2e2a2a" stroke-width="1.1"/>
<polyline points="270.1,429.5 272.5,432.9 274.9,429.5" fill="none" stroke="#2e2a2a" stroke-width="1.1"/>
<text x="261.4" y="420.5" font-size="10.5" fill="#2e2a2a" text-anchor="middle">D</text>
<line x1="400.5" y1="362" x2="446.4" y2="362" stroke="#555" stroke-width="1.1"/>
<line x1="408.1" y1="499" x2="446.5" y2="499" stroke="#3e3a3a" stroke-width="1.0"/>
<line x1="444.4" y1="362" x2="444.4" y2="498.6" stroke="#3e3a3a" stroke-width="1.0"/>
<polyline points="441.2,367.6 444.4,362.6 447.59999999999997,367.6" fill="none" stroke="#2e2a2a" stroke-width="1.1"/>
<polyline points="441.2,493.4 444.4,498.4 447.59999999999997,493.4" fill="none" stroke="#2e2a2a" stroke-width="1.1"/>
<text x="437" y="440.8" font-size="11.5" fill="#2e2a2a" text-anchor="middle">B</text>
<line x1="312.5" y1="499" x2="312.5" y2="523.8" stroke="#3e3a3a" stroke-width="1.0"/>
<line x1="408.4" y1="499" x2="408.4" y2="523.9" stroke="#3e3a3a" stroke-width="1.0"/>
<line x1="312.5" y1="517.8" x2="408.4" y2="517.8" stroke="#666" stroke-width="1.1"/>
<polyline points="318.7,514.9 313,517.9 318.7,520.9" fill="none" stroke="#2e2a2a" stroke-width="1.1"/>
<polyline points="401.59999999999997,514.9 407.9,517.9 401.59999999999997,520.9" fill="none" stroke="#2e2a2a" stroke-width="1.1"/>
<text x="356.3" y="514.5" font-size="10" fill="#2e2a2a" text-anchor="middle">A</text>
<line x1="286.5" y1="457" x2="286.5" y2="537.9" stroke="#3e3a3a" stroke-width="1.0"/>
<line x1="435.7" y1="457" x2="435.7" y2="537.9" stroke="#3e3a3a" stroke-width="1.0"/>
<line x1="286.5" y1="531.4" x2="435.7" y2="531.4" stroke="#2e2a2a" stroke-width="1.1"/>
<polyline points="296.8,527.6 287,531.4 296.8,535.1999999999999" fill="none" stroke="#2e2a2a" stroke-width="1.1"/>
<polyline points="425.2,527.6 435.2,531.4 425.2,535.1999999999999" fill="none" stroke="#2e2a2a" stroke-width="1.1"/>
<text x="359.7" y="546.1" font-size="11" fill="#2e2a2a" text-anchor="middle">G</text>
<line x1="474.1" y1="400.4" x2="502.6" y2="400.4" stroke="#4a4545" stroke-width="1.2"/>
<line x1="474.1" y1="464.2" x2="502.6" y2="464.2" stroke="#4a4545" stroke-width="1.2"/>
<line x1="478.8" y1="401" x2="478.8" y2="464" stroke="#8a8888" stroke-width="1.0"/>
<polyline points="476.0,405.2 478.8,401.8 481.6,405.2" fill="none" stroke="#2e2a2a" stroke-width="1.1"/>
<polyline points="476.0,460.20000000000005 478.8,463.6 481.6,460.20000000000005" fill="none" stroke="#2e2a2a" stroke-width="1.1"/>
<rect x="471.6" y="428.2" width="2.3" height="7.5" fill="#222"/>
<line x1="530.4" y1="454.5" x2="530.4" y2="488.7" stroke="#3e3a3a" stroke-width="1.0"/>
<line x1="588.3" y1="454.5" x2="588.3" y2="488.7" stroke="#3e3a3a" stroke-width="1.0"/>
<line x1="530.4" y1="484.2" x2="588.3" y2="484.2" stroke="#3e3a3a" stroke-width="1.0"/>
<polyline points="535.9,481.2 530.9,484.2 535.9,487.2" fill="none" stroke="#2e2a2a" stroke-width="1.1"/>
<polyline points="582.8,481.2 587.8,484.2 582.8,487.2" fill="none" stroke="#2e2a2a" stroke-width="1.1"/>
<text x="559.7" y="495.2" font-size="9.5" fill="#2e2a2a" text-anchor="middle">J</text>
</svg>
<div class="pill"><span>Overall Dimensions</span></div>
<div class="row" style="top:28.3px"><span class="num">1</span><span class="txt">SIDE PLATE</span></div>
<div class="row" style="top:44.9px"><span class="num">2</span><span class="txt">FRONT FRAME</span></div>
<div class="row" style="top:61.6px"><span class="num">3</span><span class="txt">CHEEK PLATE, UPPER</span></div>
<div class="row" style="top:78.2px"><span class="num">4</span><span class="txt">CHEEK PLATE, LOWER</span></div>
<div class="row" style="top:94.9px"><span class="num">5</span><span class="txt">FIXED JAW PLATE</span></div>
<div class="row" style="top:111.5px"><span class="num">6</span><span class="txt">MOVABLE JAW PLATE,LOWER</span></div>
<div class="row" style="top:128.1px"><span class="num">7</span><span class="txt">FIXED WEDGE</span></div>
<div class="row" style="top:144.8px"><span class="num">8</span><span class="txt">FLYWHEEL</span></div>
<div class="row" style="top:161.4px"><span class="num">9</span><span class="txt">PITMAN</span></div>
<div class="row" style="top:178.1px"><span class="num">10</span><span class="txt">ECCENTRIC SHAFT</span></div>
<div class="row" style="top:194.7px"><span class="num">11</span><span class="txt">MOVABLE JAW PLATE,UPPER</span></div>
<div class="row" style="top:211.3px"><span class="num">12</span><span class="txt">MOTOR BRACKET</span></div>
<div class="row" style="top:228.0px"><span class="num">13</span><span class="txt">REAR FRAME</span></div>
</body></html>
